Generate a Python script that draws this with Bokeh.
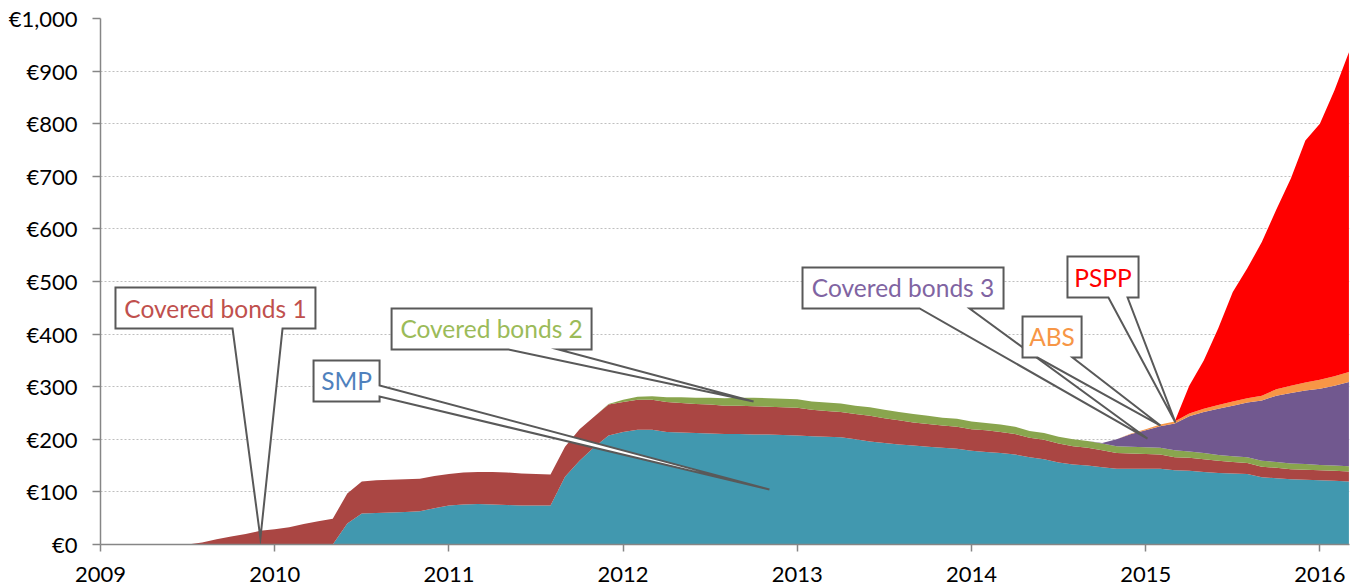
import numpy as np
from bokeh.plotting import figure
from bokeh.models import ColumnDataSource, FixedTicker, Range1d
from bokeh.core.properties import value
from bokeh.embed import file_html
from bokeh.resources import INLINE

# ---------------- data (EUR bn, month-end, Jan 2009 .. Mar 2016) ----------------
months = np.arange(87)
t = 2009 + months / 12.0

smp = [0] * 17 + [40, 59, 60, 61, 62, 63, 69, 74, 76, 77, 76, 75, 74, 74, 74,
                  129, 159, 185, 207, 214, 218, 218, 214, 213, 212, 211, 210, 210,
                  209, 209, 208, 207, 206, 205, 204, 200, 196, 193, 190, 188, 186,
                  184, 182, 178, 176, 174, 171, 166, 162, 156, 152, 150, 147, 144,
                  144, 144, 144, 141, 140, 138, 136, 135, 134, 128, 126, 124, 123,
                  122, 121, 120]
cb1 = [0] * 7 + [4, 10, 15, 20, 26, 29, 33, 39, 44, 49, 57, 61, 62, 62, 62, 62,
                 61, 60, 61, 61, 62, 62, 61, 60, 59, 57, 60, 58, 59, 57, 57, 57,
                 57, 56, 55, 55, 54, 54, 54, 53, 53, 53, 50, 49, 48, 48, 49, 47,
                 46, 44, 43, 42, 42, 41, 41, 40, 39, 37, 37, 36, 35, 34, 32, 30,
                 29, 28, 27, 25, 25, 24, 23, 22, 21, 20, 20, 19, 19, 19, 19, 19]
cb2 = [0] * 35 + [1, 4, 6, 7, 9, 11, 12, 13, 14, 15,
                  16, 16, 16, 16, 16, 16, 16, 16, 16, 16, 16, 16, 16,
                  15, 15, 15, 14, 14, 14,
                  13, 13, 13, 13, 13, 13, 13, 13, 13, 13, 13,
                  12, 12, 11, 11, 11, 11, 11, 11, 11, 10, 10, 10]
cb3 = [0] * 69 + [1, 13, 24, 32, 41, 51, 67, 78, 88, 96, 104, 115, 126, 134,
                  140, 145, 152, 160]
abs_ = [0] * 71 + [1, 2, 3, 4, 5, 6, 7, 8, 8, 9, 12, 14, 15, 17, 18, 19]
pspp = [0] * 75 + [53, 92, 146, 208, 247, 292, 342, 394, 460, 487, 543, 608]

series_keys = ["smp", "cb1", "cb2", "cb3", "abs", "pspp"]
series_colors = ["#4198AF", "#AA4643", "#89A54E", "#71588F", "#F79646", "#FF0000"]

year_ticks = [2009, 2010, 2011, 2012, 2013, 2014, 2015, 2016]
value_ticks = [0, 100, 200, 300, 400, 500, 600, 700, 800, 900, 1000]

# ---------------- callout annotations (data units) ----------------
callouts = [
    dict(label="Covered bonds 1", color="#C0504D", box=(2009.086, 2010.234, 410.6, 488.6),
         side="bottom", base=(2009.758, 2010.045), tip=(2009.918, 12)),
    dict(label="SMP", color="#4F81BD", box=(2010.223, 2010.602, 271.9, 349.8),
         side="right", base=(281.4, 302.3), tip=(2012.840, 104.6)),
    dict(label="Covered bonds 2", color="#9BBB59", box=(2010.671, 2011.819, 370.7, 448.7),
         side="bottom", base=(2011.342, 2011.629), tip=(2012.749, 271.9)),
    dict(label="Covered bonds 3", color="#8064A2", box=(2013.030, 2014.184, 448.7, 526.6),
         side="bottom", base=(2013.702, 2013.989), tip=(2015.010, 201.5)),
    dict(label="ABS", color="#F79646", box=(2014.293, 2014.632, 355.5, 433.5),
         side="bottom", base=(2014.379, 2014.580), tip=(2015.085, 226.2)),
    dict(label="PSPP", color="#FF0000", box=(2014.551, 2014.959, 469.6, 547.5),
         side="bottom", base=(2014.786, 2014.896), tip=(2015.171, 231.9)),
]

FONT = "Lato"

p = figure(width=1360, height=586, output_backend="svg", toolbar_location=None,
           x_range=Range1d(2009, 2016.17), y_range=Range1d(0, 1000),
           min_border_left=100, min_border_right=11, min_border_top=18,
           min_border_bottom=42)
p.outline_line_color = None
p.background_fill_color = "white"
p.border_fill_color = "white"

source = ColumnDataSource(dict(t=t, smp=smp, cb1=cb1, cb2=cb2, cb3=cb3,
                               abs=abs_, pspp=pspp))
p.varea_stack(stackers=series_keys, x="t", color=series_colors, source=source)

# axes
for ax in (p.xaxis[0], p.yaxis[0]):
    ax.axis_line_color = "#868686"
    ax.axis_line_width = 1.5
    ax.major_tick_line_color = "#868686"
    ax.major_tick_line_width = 1.5
    ax.minor_tick_line_color = None
    ax.major_tick_in = 0
    ax.major_label_text_font = FONT
    ax.major_label_text_font_size = "22px"
    ax.major_label_text_color = "black"

p.xaxis.ticker = FixedTicker(ticks=year_ticks)
p.xaxis.major_label_overrides = {y: str(y) for y in year_ticks}
p.xaxis.major_tick_out = 7
p.xaxis.major_label_standoff = 15

p.yaxis.ticker = FixedTicker(ticks=value_ticks)
p.yaxis.major_label_overrides = {v: "\u20ac{:,}".format(v) for v in value_ticks}
p.yaxis.major_tick_out = 8
p.yaxis.major_label_standoff = 15

p.xgrid.visible = False
p.ygrid.grid_line_color = "#BFBFBF"
p.ygrid.grid_line_dash = "2 2"
p.ygrid.grid_line_width = 1

# callouts
for c in callouts:
    x0, x1, y0, y1 = c["box"]
    tx, ty = c["tip"]
    a, b = c["base"]
    xs = [x0, x1]
    ys = [y1, y1]
    if c["side"] == "right":
        xs += [x1, tx, x1]
        ys += [b, ty, a]
    xs += [x1]
    ys += [y0]
    if c["side"] == "bottom":
        xs += [b, tx, a]
        ys += [y0, ty, y0]
    xs += [x0]
    ys += [y0]
    p.patch(xs, ys, fill_color="white", line_color="#595959", line_width=2,
            line_join="miter")
    p.text(x=[(x0 + x1) / 2], y=[(y0 + y1) / 2], text=[c["label"]],
           text_color=c["color"], text_font=value(FONT), text_font_size="24.5px",
           text_align="center", text_baseline="middle")

open("out.html", "w").write(file_html(p, INLINE))
